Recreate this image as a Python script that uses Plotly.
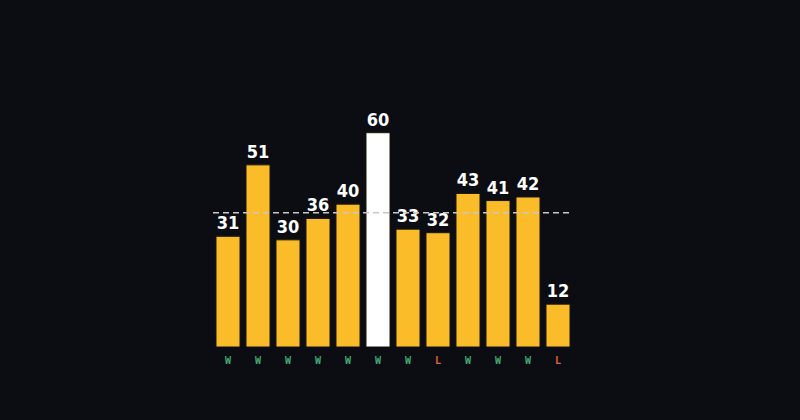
import plotly.graph_objects as go

games = [f"G{i}" for i in range(1, 13)]
points = [31, 51, 30, 36, 40, 60, 33, 32, 43, 41, 42, 12]
results = ["W", "W", "W", "W", "W", "W", "W", "L", "W", "W", "W", "L"]

BG = "#0b0d12"
YELLOW = "#fbbc2a"
WHITE = "#ffffff"
GREEN = "#3fae74"
RED = "#e0623c"

best = max(points)
colors = [WHITE if p == best else YELLOW for p in points]
avg = sum(points) / len(points)

ticktext = [
    f"<span style='color:{GREEN if r == 'W' else RED}'>{r}</span>" for r in results
]

fig = go.Figure()
fig.add_trace(go.Bar(
    x=games,
    y=points,
    marker=dict(color=colors, line=dict(color="#1c1708", width=1)),
    text=[str(p) for p in points],
    textposition="outside",
    textfont=dict(family="DejaVu Sans Condensed, sans-serif",
                  size=18, color=WHITE, weight="bold"),
    cliponaxis=False,
    hoverinfo="skip",
))
fig.add_shape(
    type="line", xref="paper", yref="y", x0=0, x1=1, y0=avg, y1=avg,
    line=dict(color="#c8c8c8", width=1.4, dash="6px,4px"),
)
fig.update_layout(
    width=800, height=420,
    paper_bgcolor=BG, plot_bgcolor=BG,
    margin=dict(l=213, r=227, t=97, b=73),
    bargap=0.2,
    showlegend=False,
    xaxis=dict(
        tickmode="array", tickvals=games, ticktext=ticktext,
        tickfont=dict(family="DejaVu Sans Mono", size=10, weight="bold"),
        ticks="outside", ticklen=4, tickcolor=BG,
        showgrid=False, zeroline=False, showline=False,
        range=[-0.5, 11.5],
    ),
    yaxis=dict(range=[0, 70], visible=False, showgrid=False, zeroline=False),
)
fig.write_html(
    "out.html",
    config={"displayModeBar": False},
    post_script=f"document.body.style.margin='0';document.body.style.background='{BG}';document.body.style.overflow='hidden';",
)
